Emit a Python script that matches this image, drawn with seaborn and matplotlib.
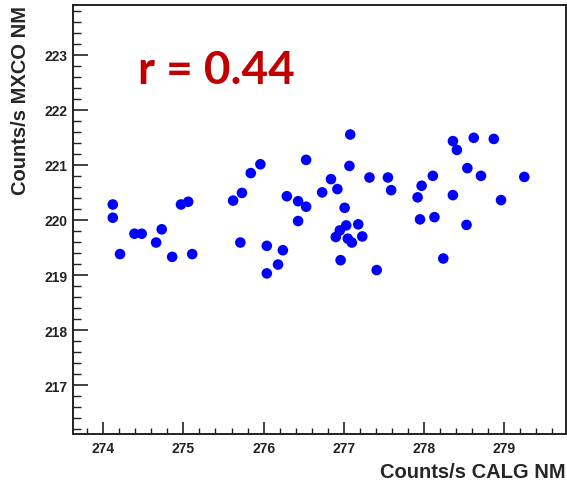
import numpy as np
import pandas as pd
import matplotlib
matplotlib.use('Agg')
import matplotlib.pyplot as plt
from matplotlib import ticker
import seaborn as sns

# datos (CALG vs MXCO)
calg = [274.12, 274.12, 274.21, 274.39, 274.48, 274.66, 274.73, 274.86, 274.97, 275.06,
        275.11, 275.62, 275.73, 275.71, 275.84, 275.96, 276.04, 276.04, 276.18, 276.24,
        276.29, 276.43, 276.43, 276.53, 276.53, 276.73, 276.84, 276.92, 277.07, 277.08,
        277.01, 277.18, 277.03, 276.95, 276.90, 277.05, 277.10, 277.23, 276.96, 277.32,
        277.55, 277.59, 277.41, 277.92, 277.97, 278.11, 277.95, 278.13, 278.24, 278.36,
        278.41, 278.62, 278.87, 278.54, 278.71, 278.36, 278.53, 278.96, 279.25]
mxco = [220.28, 220.04, 219.38, 219.75, 219.75, 219.59, 219.83, 219.33, 220.28, 220.33,
        219.38, 220.35, 220.49, 219.59, 220.85, 221.01, 219.53, 219.03, 219.19, 219.45,
        220.43, 220.34, 219.98, 220.24, 221.09, 220.50, 220.74, 220.56, 220.98, 221.55,
        220.22, 219.92, 219.90, 219.81, 219.69, 219.66, 219.59, 219.70, 219.27, 220.77,
        220.77, 220.54, 219.09, 220.41, 220.62, 220.80, 220.01, 220.05, 219.30, 221.43,
        221.27, 221.49, 221.47, 220.94, 220.80, 220.45, 219.91, 220.36, 220.78]
r_texto = 'r = 0.44'
xlabel = 'Counts/s CALG NM'
ylabel = 'Counts/s MXCO NM'

df = pd.DataFrame({'calg': calg, 'mxco': mxco})

sns.set_style('ticks')
plt.rcParams['font.family'] = ['Liberation Sans', 'DejaVu Sans']

fig = plt.figure(figsize=(5.67, 4.85), dpi=100)
ax = fig.add_axes([72.7/567, 1 - 435.3/485, 493.3/567, 429.3/485])

sns.scatterplot(data=df, x='calg', y='mxco', color='#0000ff', s=58,
                edgecolor='none', marker='o', ax=ax, zorder=3)

ax.set_xlim(273.62, 279.77)
ax.set_ylim(216.11, 223.90)
ax.xaxis.set_major_locator(ticker.MultipleLocator(1))
ax.xaxis.set_minor_locator(ticker.MultipleLocator(0.2))
ax.yaxis.set_major_locator(ticker.MultipleLocator(1))
ax.yaxis.set_minor_locator(ticker.MultipleLocator(0.2))
ax.tick_params(axis='x', which='major', direction='in', length=8.6, width=1.2,
               labelsize=10, colors='#222222', pad=5)
ax.tick_params(axis='x', which='minor', direction='in', length=4.3, width=1.0, colors='#222222')
ax.tick_params(axis='y', which='major', direction='in', length=10.8, width=1.2,
               labelsize=10, colors='#222222', pad=4)
ax.tick_params(axis='y', which='minor', direction='in', length=5.8, width=1.0, colors='#222222')
for lab in ax.get_xticklabels() + ax.get_yticklabels():
    lab.set_fontweight('bold')

for s in ax.spines.values():
    s.set_visible(True)
    s.set_linewidth(1.4)
    s.set_color('#222222')

ax.set_xlabel(xlabel, fontsize=14.5, fontweight='bold', loc='right', labelpad=5)
ax.set_ylabel(ylabel, fontsize=14.5, fontweight='bold', loc='top', labelpad=10)

ax.text(0.132, 0.849, r_texto, transform=ax.transAxes, color='#c00000',
        fontsize=33, fontweight='bold', family=['Lato', 'DejaVu Sans'],
        ha='left', va='center')

fig.savefig('out.png', dpi=100)
